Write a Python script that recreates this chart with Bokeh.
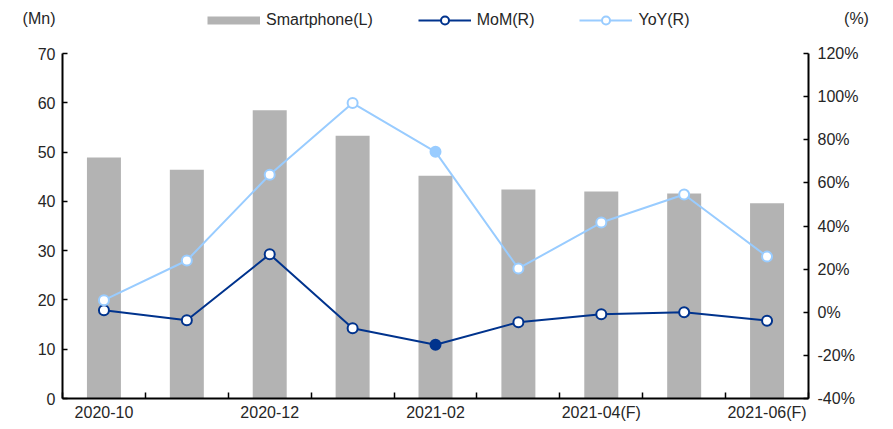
from bokeh.plotting import figure
from bokeh.models import (Range1d, LinearAxis, FixedTicker, Legend, LegendItem,
                          ColumnDataSource, Label, PrintfTickFormatter)
from bokeh.embed import file_html
from bokeh.resources import INLINE

months = ["2020-10", "2020-11", "2020-12", "2021-01", "2021-02", "2021-03",
          "2021-04(F)", "2021-05(F)", "2021-06(F)"]
smartphone = [48.9, 46.4, 58.5, 53.3, 45.2, 42.4, 42.0, 41.6, 39.6]
mom = [0.9, -3.7, 26.9, -7.4, -15.1, -4.6, -0.9, 0.0, -3.9]
yoy = [5.6, 24.0, 63.8, 97.0, 74.4, 20.3, 41.6, 54.6, 25.8]
shown_labels = {0: "2020-10", 2: "2020-12", 4: "2021-02", 6: "2021-04(F)", 8: "2021-06(F)"}
left_ticks = [0, 10, 20, 30, 40, 50, 60, 70]
right_ticks = [-40, -20, 0, 20, 40, 60, 80, 100, 120]
filled_index = 4

FONT = "Liberation Sans"
FS = "16px"
GRAY = "#b3b3b3"
NAVY = "#00338d"
LIGHT = "#99ccff"
TXT = "#262626"

# layout (page pixels)
W, H = 893, 429
PL, PR, PT, PB = 62, 808, 53, 398   # plot-area edges

n = len(months)
x0, x1 = -0.5, n - 0.5
xs_per_px = (x1 - x0) / (PR - PL)
L0, L1 = left_ticks[0], left_ticks[-1]
R0, R1 = right_ticks[0], right_ticks[-1]
l_per_px = (L1 - L0) / (PB - PT)
r_per_px = (R1 - R0) / (PB - PT)

xs = list(range(n))
mom_fill = [NAVY if i == filled_index else "white" for i in xs]
yoy_fill = [LIGHT if i == filled_index else "white" for i in xs]
src = ColumnDataSource(dict(x=xs, bar=smartphone, mom=mom, yoy=yoy,
                            mom_fill=mom_fill, yoy_fill=yoy_fill))

p = figure(width=W, height=H,
           x_range=Range1d(x0 - PL * xs_per_px, x1 + (W - PR) * xs_per_px),
           y_range=Range1d(L0 - (H - PB) * l_per_px, L1 + PT * l_per_px),
           output_backend="svg", toolbar_location=None,
           min_border=0, min_border_left=0, min_border_right=0,
           min_border_top=0, min_border_bottom=0)
p.outline_line_color = None
p.xgrid.visible = False
p.ygrid.visible = False
p.extra_y_ranges = {"pct": Range1d(R0 - (H - PB) * r_per_px, R1 + PT * r_per_px)}

bars = p.vbar(x="x", top="bar", width=0.41, source=src, fill_color=GRAY, line_color=None)

mom_line = p.line("x", "mom", source=src, y_range_name="pct", line_color=NAVY, line_width=2)
mom_pts = p.scatter("x", "mom", source=src, y_range_name="pct", size=10, line_width=2,
                    line_color=NAVY, fill_color="mom_fill")
yoy_line = p.line("x", "yoy", source=src, y_range_name="pct", line_color=LIGHT, line_width=2)
yoy_pts = p.scatter("x", "yoy", source=src, y_range_name="pct", size=10, line_width=2,
                    line_color=LIGHT, fill_color="yoy_fill")

# legend proxy for bars (thick gray line)
bar_proxy = p.line([float("nan")], [float("nan")], line_color=GRAY, line_width=8)

def style_axis(ax):
    ax.axis_line_color = "black"
    ax.axis_line_width = 2
    ax.major_tick_line_color = "black"
    ax.major_tick_line_width = 1.5
    ax.minor_tick_line_color = "black"
    ax.minor_tick_line_width = 1.5
    ax.major_label_text_font = FONT
    ax.major_label_text_font_size = FS
    ax.major_label_text_color = TXT

# bottom axis
xa = p.xaxis[0]
style_axis(xa)
xa.fixed_location = L0
xa.bounds = (x0, x1)
xa.ticker = FixedTicker(ticks=list(shown_labels.keys()),
                        minor_ticks=[i - 0.5 for i in range(n + 1)])
xa.major_label_overrides = {k: v for k, v in shown_labels.items()}
xa.major_tick_in = 0
xa.major_tick_out = 0
xa.minor_tick_in = 6
xa.minor_tick_out = 0
xa.major_label_standoff = 5

# left axis
ya = p.yaxis[0]
style_axis(ya)
ya.fixed_location = x0
ya.bounds = (L0, L1)
ya.ticker = FixedTicker(ticks=left_ticks)
ya.major_tick_in = 5
ya.major_tick_out = 0
ya.minor_tick_line_color = None
ya.major_label_standoff = 7

# right axis
ra = LinearAxis(y_range_name="pct")
style_axis(ra)
ra.fixed_location = x1
ra.bounds = (R0, R1)
ra.ticker = FixedTicker(ticks=right_ticks)
ra.formatter = PrintfTickFormatter(format="%d%%")
ra.major_tick_in = 5
ra.major_tick_out = 0
ra.minor_tick_line_color = None
ra.major_label_standoff = 9
p.add_layout(ra, "right")

# unit labels
p.add_layout(Label(x=x0, y=L1, x_offset=-7, y_offset=35, text="(Mn)",
                   text_align="right", text_baseline="middle",
                   text_font=FONT, text_font_size=FS, text_color=TXT))
p.add_layout(Label(x=x1, y=L1, x_offset=48, y_offset=35, text="(%)",
                   text_align="center", text_baseline="middle",
                   text_font=FONT, text_font_size=FS, text_color=TXT))

legend = Legend(items=[
    LegendItem(label="Smartphone(L)", renderers=[bar_proxy]),
    LegendItem(label="MoM(R)", renderers=[mom_line, mom_pts]),
    LegendItem(label="YoY(R)", renderers=[yoy_line, yoy_pts]),
], orientation="horizontal", location=(207, H - 30), padding=0, margin=0,
    spacing=45, glyph_width=53, glyph_height=20, label_standoff=6,
    border_line_color=None, background_fill_alpha=0,
    label_text_font=FONT, label_text_font_size=FS, label_text_color=TXT)
p.add_layout(legend, "center")

open("out.html", "w").write(file_html(p, INLINE))
